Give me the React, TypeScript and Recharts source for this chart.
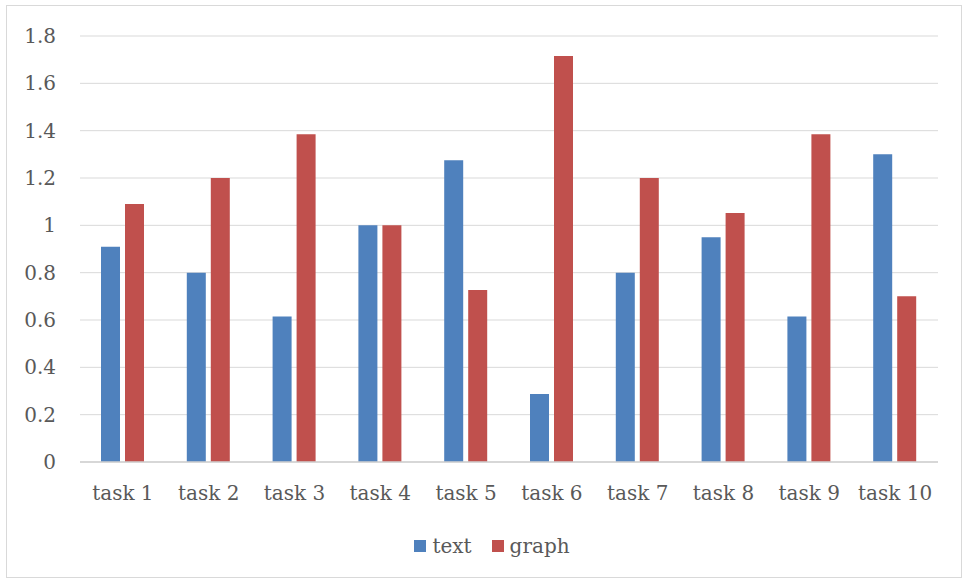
import {
  BarChart,
  Bar,
  XAxis,
  YAxis,
  CartesianGrid,
  Legend,
} from "recharts";

const tasks = [
  "task 1",
  "task 2",
  "task 3",
  "task 4",
  "task 5",
  "task 6",
  "task 7",
  "task 8",
  "task 9",
  "task 10",
];
const textScores = [0.91, 0.8, 0.615, 1.0, 1.275, 0.287, 0.8, 0.95, 0.615, 1.3];
const graphScores = [1.09, 1.2, 1.385, 1.0, 0.727, 1.715, 1.2, 1.052, 1.385, 0.7];
const yTicks = [0, 0.2, 0.4, 0.6, 0.8, 1, 1.2, 1.4, 1.6, 1.8];

const data = tasks.map((task, i) => ({
  task,
  text: textScores[i],
  graph: graphScores[i],
}));

const FONT = "'DejaVu Serif', serif";
const LABEL = "#595959";
const BLUE = "#4f81bd";
const RED = "#c0504d";

function LegendBox() {
  const items = [
    { name: "text", color: BLUE },
    { name: "graph", color: RED },
  ];
  return (
    <div
      style={{
        display: "flex",
        justifyContent: "center",
        gap: 20,
        paddingTop: 12,
        paddingLeft: 20,
        fontFamily: FONT,
        fontSize: 20,
        color: LABEL,
      }}
    >
      {items.map((it) => (
        <span key={it.name} style={{ display: "flex", alignItems: "center" }}>
          <span
            style={{
              width: 12,
              height: 12,
              background: it.color,
              marginRight: 6,
              display: "inline-block",
            }}
          />
          {it.name}
        </span>
      ))}
    </div>
  );
}

export default function App() {
  return (
    <div
      style={{
        position: "absolute",
        left: 0,
        top: 0,
        width: 964,
        height: 580,
        background: "#fff",
      }}
    >
      <div
        style={{
          position: "absolute",
          left: 6,
          top: 5,
          width: 954,
          height: 571,
          border: "1px solid #d9d9d9",
        }}
      />
      <BarChart
        data={data}
        width={964}
        height={580}
        margin={{ top: 36, right: 26, left: 0, bottom: 0 }}
        barSize={19}
        barGap={5}
      >
        <CartesianGrid vertical={false} stroke="#d9d9d9" />
        <XAxis
          dataKey="task"
          height={60}
          tickLine={false}
          tickSize={0}
          tickMargin={24}
          stroke="#d0d0d0"
          strokeWidth={1.5}
          tick={{ fill: LABEL, fontSize: 20, fontFamily: FONT }}
        />
        <YAxis
          width={80}
          domain={[0, 1.8]}
          ticks={yTicks}
          axisLine={false}
          tickLine={false}
          tickSize={0}
          tickMargin={24}
          tick={{ fill: LABEL, fontSize: 20, fontFamily: FONT }}
        />
        <Legend
          verticalAlign="bottom"
          height={58}
          wrapperStyle={{ left: 0, width: 964 }}
          content={() => <LegendBox />}
        />
        <Bar dataKey="text" fill={BLUE} isAnimationActive={false} />
        <Bar dataKey="graph" fill={RED} isAnimationActive={false} />
      </BarChart>
    </div>
  );
}
